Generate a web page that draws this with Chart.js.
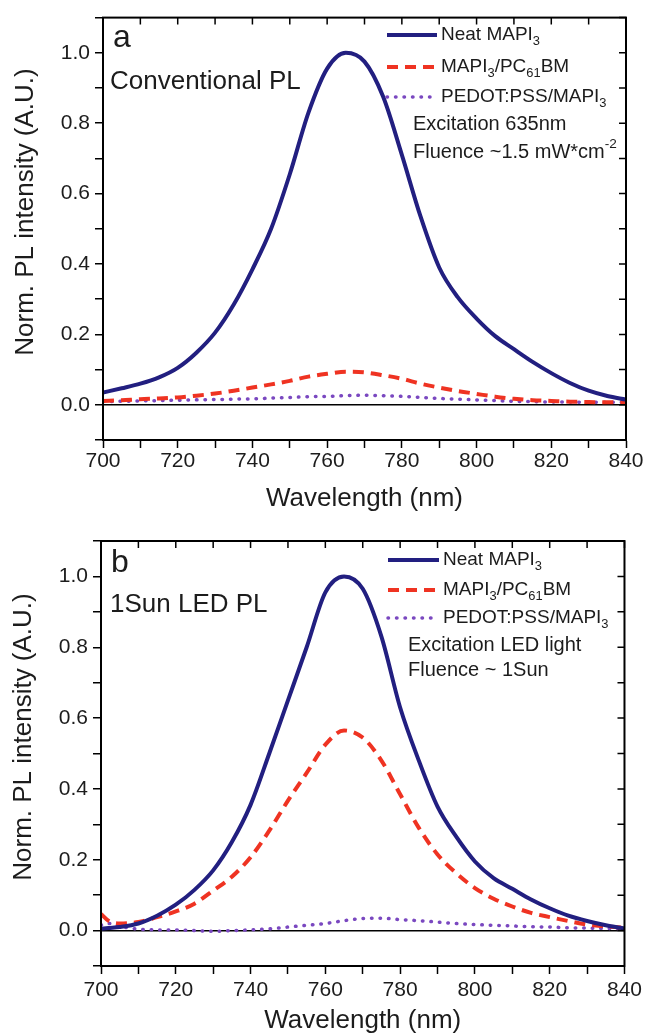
<!DOCTYPE html>
<html lang="en">
<head>
<meta charset="UTF-8">
<title>Norm. PL spectra</title>
<script src="https://cdn.jsdelivr.net/npm/chart.js"></script>
<style>
  body { margin: 0; background: #fff; }
  .panel { width: 646px; height: 518px; }
  canvas { display: block; }
</style>
</head>
<body>
<div class="panel"><canvas id="plA" width="646" height="518"></canvas></div>
<div class="panel"><canvas id="plB" width="646" height="518"></canvas></div>
<script>
// panel a - conventional PL
const wavelengthA = [700, 705, 710, 715, 720, 725, 730, 735, 740, 745, 750, 755, 760, 765, 770,
                     775, 780, 785, 790, 795, 800, 805, 810, 815, 820, 825, 830, 835, 840];
const neatA  = [0.035, 0.047, 0.060, 0.078, 0.105, 0.148, 0.205, 0.285, 0.385, 0.50, 0.655, 0.83, 0.955, 1.00, 0.975,
                0.875, 0.71, 0.535, 0.39, 0.305, 0.245, 0.195, 0.158, 0.122, 0.090, 0.062, 0.040, 0.025, 0.015];
const pcbmA  = [0.011, 0.013, 0.016, 0.018, 0.021, 0.026, 0.032, 0.040, 0.049, 0.058, 0.068, 0.080, 0.088, 0.094, 0.092,
                0.084, 0.074, 0.060, 0.049, 0.039, 0.031, 0.023, 0.017, 0.013, 0.011, 0.009, 0.008, 0.007, 0.007];
const pedotA = [0.009, 0.010, 0.011, 0.012, 0.013, 0.014, 0.015, 0.016, 0.017, 0.019, 0.021, 0.023, 0.024, 0.026, 0.027,
                0.026, 0.024, 0.021, 0.018, 0.016, 0.014, 0.012, 0.010, 0.009, 0.008, 0.008, 0.007, 0.007, 0.007];

// panel b - 1 sun LED PL
const wavelengthB = [700, 702, 705, 710, 715, 720, 725, 730, 735, 740, 745, 750, 755, 760, 765, 770,
                     775, 780, 785, 790, 795, 800, 805, 810, 815, 820, 825, 830, 835, 840];
const neatB  = [0.005, 0.007, 0.010, 0.020, 0.042, 0.073, 0.115, 0.17, 0.25, 0.355, 0.50, 0.65, 0.80, 0.955, 1.00, 0.965,
                0.83, 0.63, 0.48, 0.35, 0.265, 0.195, 0.148, 0.118, 0.088, 0.063, 0.042, 0.027, 0.015, 0.006];
const pcbmB  = [0.047, 0.028, 0.020, 0.024, 0.038, 0.054, 0.076, 0.113, 0.152, 0.207, 0.282, 0.367, 0.445, 0.525, 0.565, 0.545,
                0.48, 0.385, 0.29, 0.215, 0.162, 0.12, 0.09, 0.068, 0.05, 0.038, 0.027, 0.017, 0.012, 0.008];
const pedotB = [0.015, 0.020, 0.012, 0.004, 0.002, 0.002, 0.000, -0.002, 0.000, 0.002, 0.005, 0.010, 0.015, 0.020, 0.028, 0.034,
                0.035, 0.031, 0.028, 0.024, 0.020, 0.017, 0.015, 0.013, 0.011, 0.010, 0.008, 0.007, 0.006, 0.005];

// text
const legendLabels = [
  [['Neat MAPI'], ['3', 'sub']],
  [['MAPI'], ['3', 'sub'], ['/PC'], ['61', 'sub'], ['BM']],
  [['PEDOT:PSS/MAPI'], ['3', 'sub']]
];
const notesA = [[['Excitation 635nm']], [['Fluence ~1.5 mW*cm'], ['-2', 'sup']]];
const notesB = [[['Excitation LED light']], [['Fluence ~ 1Sun']]];
const xTitle = 'Wavelength (nm)';
const yTitle = 'Norm. PL intensity (A.U.)';

const FONT = '"Liberation Sans", Arial, sans-serif';
const INK = '#1c1c1c';

function rich(ctx, parts, x, y, size) {
  parts.forEach(([t, k]) => {
    const s = k ? size * 0.68 : size;
    ctx.font = s + 'px ' + FONT;
    const dy = k === 'sub' ? size * 0.32 : k === 'sup' ? -size * 0.38 : 0;
    ctx.fillText(t, x, y + dy);
    x += ctx.measureText(t).width;
  });
}

const decor = {
  id: 'decor',
  afterDraw(chart, args, o) {
    const ctx = chart.ctx, a = chart.chartArea;
    const xs = chart.scales.x, ys = chart.scales.y;
    ctx.save();
    // box + inner ticks on top and right
    ctx.strokeStyle = '#000';
    ctx.lineWidth = 2;
    ctx.strokeRect(a.left, a.top, a.right - a.left, a.bottom - a.top);
    ctx.lineWidth = 1.5;
    ctx.beginPath();
    xs.ticks.forEach(t => {
      const px = xs.getPixelForValue(t.value);
      ctx.moveTo(px, a.top); ctx.lineTo(px, a.top + 7);
    });
    ys.ticks.forEach(t => {
      const py = ys.getPixelForValue(t.value);
      ctx.moveTo(a.right, py); ctx.lineTo(a.right - 7, py);
    });
    ctx.stroke();

    ctx.fillStyle = INK;
    ctx.textAlign = 'left';
    ctx.textBaseline = 'alphabetic';
    ctx.font = '32px ' + FONT;
    ctx.fillText(o.letter, o.letterPos[0], o.letterPos[1]);
    ctx.font = '26px ' + FONT;
    ctx.fillText(o.subtitle, o.subPos[0], o.subPos[1]);

    // legend
    ctx.textBaseline = 'middle';
    chart.data.datasets.forEach((ds, i) => {
      const y = o.rows[i];
      ctx.save();
      ctx.strokeStyle = ds.borderColor;
      ctx.lineWidth = ds.borderWidth;
      ctx.lineCap = ds.borderCapStyle || 'butt';
      ctx.setLineDash(ds.borderDash || []);
      ctx.beginPath();
      ctx.moveTo(o.lineX[0], y); ctx.lineTo(o.lineX[1], y);
      ctx.stroke();
      ctx.restore();
      rich(ctx, legendLabels[i], o.lineX[1] + 4, y, 19);
    });
    o.notes.forEach((n, i) => rich(ctx, n, o.notesX, o.notesY[i], 20));

    // y title
    ctx.save();
    ctx.translate(o.yTitlePos[0], o.yTitlePos[1]);
    ctx.rotate(-Math.PI / 2);
    ctx.textAlign = 'center';
    ctx.font = '26px ' + FONT;
    ctx.fillText(yTitle, 0, 0);
    ctx.restore();
    ctx.restore();
  }
};

function pts(wl, v) { return wl.map((x, i) => ({ x: x, y: v[i] })); }

function makeChart(id, wl, series, g) {
  const styles = [
    { borderColor: '#221f80', borderWidth: 4 },
    { borderColor: '#ef3322', borderWidth: 4, borderDash: [11, 7] },
    { borderColor: '#7a48c0', borderWidth: 3.5, borderDash: [0.5, 8], borderCapStyle: 'round' }
  ];
  return new Chart(document.getElementById(id), {
    type: 'line',
    data: {
      datasets: series.map((s, i) => Object.assign({
        data: pts(wl, s), pointRadius: 0, fill: false,
        cubicInterpolationMode: 'monotone'
      }, styles[i]))
    },
    options: {
      responsive: false,
      animation: false,
      events: [],
      layout: { padding: g.padding },
      plugins: { legend: { display: false }, tooltip: { enabled: false }, decor: g.decor },
      scales: {
        x: {
          type: 'linear', min: 700, max: 840,
          afterFit: s => { s.height = g.xHeight; },
          border: { display: true, color: '#000', width: 2 },
          grid: { drawOnChartArea: false, tickLength: 8, tickColor: '#000', tickWidth: 1.5 },
          ticks: {
            stepSize: 10, autoSkip: false, maxRotation: 0, padding: g.xPad,
            color: INK, font: { family: FONT, size: 21 },
            callback: v => (v % 20 === 0 ? String(v) : '')
          },
          title: { display: true, text: xTitle, color: INK, font: { family: FONT, size: 26 },
                   padding: { top: 0, bottom: g.titlePad } }
        },
        y: {
          min: -0.1, max: 1.1,
          afterFit: s => { s.width = g.yWidth; },
          border: { display: true, color: '#000', width: 2 },
          grid: {
            drawOnChartArea: true, tickLength: 8, tickColor: '#000', tickWidth: 1.5, lineWidth: 1.5,
            color: c => (c.tick && Math.abs(c.tick.value) < 1e-9 ? '#000' : 'rgba(0,0,0,0)')
          },
          ticks: {
            stepSize: 0.1, autoSkip: false, padding: 5,
            color: INK, font: { family: FONT, size: 21 },
            callback: v => {
              const k = Math.round(v * 10);
              return (k % 2 === 0 && k >= 0 && k <= 10) ? v.toFixed(1) : '';
            }
          }
        }
      }
    },
    plugins: [decor]
  });
}

makeChart('plA', wavelengthA, [neatA, pcbmA, pedotA], {
  padding: { top: 15, right: 20, left: 0, bottom: 0 },
  yWidth: 103, xHeight: 78, xPad: 1, titlePad: 4,
  decor: {
    letter: 'a', letterPos: [113, 47], subtitle: 'Conventional PL', subPos: [110, 89],
    lineX: [387, 437], rows: [35, 67, 97],
    notes: notesA, notesX: 413, notesY: [124, 152], yTitlePos: [26, 212]
  }
});

makeChart('plB', wavelengthB, [neatB, pcbmB, pedotB], {
  padding: { top: 23, right: 17, left: 0, bottom: 0 },
  yWidth: 101, xHeight: 70, xPad: 4, titlePad: 0,
  decor: {
    letter: 'b', letterPos: [111, 54], subtitle: '1Sun LED PL', subPos: [110, 94],
    lineX: [388, 439], rows: [42, 72, 100],
    notes: notesB, notesX: 408, notesY: [127, 152], yTitlePos: [24, 219]
  }
});
</script>
</body>
</html>
